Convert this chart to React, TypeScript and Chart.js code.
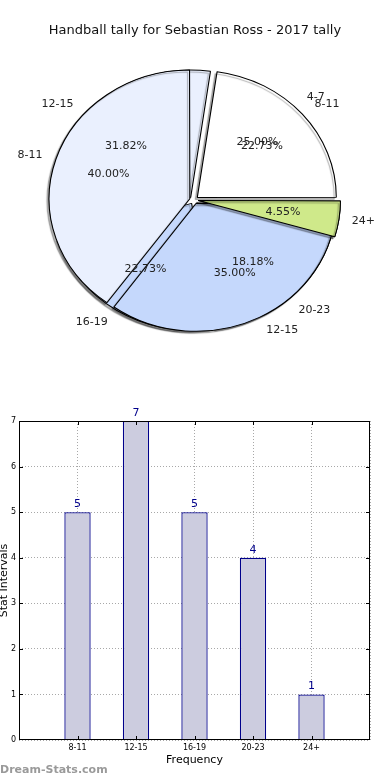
import React, { useEffect, useRef } from 'react';
import { Chart, registerables } from 'chart.js';

Chart.register(...registerables);

// ---------- data ----------
const TITLE = 'Handball tally for Sebastian Ross - 2017 tally';
const WATERMARK = 'Dream-Stats.com';

const pieALabels = ['8-11', '12-15', '16-19', '20-23', '24+'];
const pieAValues = [5, 7, 5, 4, 1];
const pieAColors = ['#ffffff', '#eaf0fe', '#c5d8fc', '#c5d8fc', '#cfe98a'];
const pieABorders = [1, 1, 1, 1, 1];
const pieAOnTop = ['24+'];

const pieBLabels = ['4-7', '8-11', '12-15'];
const pieBValues = [5, 8, 7];
const pieBColors = ['rgba(0,0,0,0)', '#eaf0fe', '#c5d8fc'];
const pieBBorders = [0, 1, 1];

const barCategories = ['8-11', '12-15', '16-19', '20-23', '24+'];
const barValues = [5, 7, 5, 4, 1];

const xAxisTitle = 'Frequency';
const yAxisTitle = 'Stat Intervals';

// ---------- styling ----------
const FONT = '"DejaVu Sans", sans-serif';
const SX = 1.094; // horizontal stretch of the pie (ellipse)
const EXPLODE = 16; // chart.js offset, drawn at 1/4 => ~4px
const PIE_RADIUS = 127;

const rev = <T,>(a: T[]) => [...a].reverse();

function ellipsePlugin(extra?: (ctx: CanvasRenderingContext2D) => void) {
  return {
    id: 'ellipse',
    beforeDatasetsDraw(chart: any) {
      const ctx = chart.ctx as CanvasRenderingContext2D;
      const arc = chart.getDatasetMeta(0).data[0];
      ctx.save();
      ctx.translate(arc.x, arc.y);
      ctx.scale(SX, 1);
      ctx.translate(-arc.x, -arc.y);
      ctx.shadowColor = 'rgba(0,0,0,0.3)';
      ctx.shadowOffsetX = -2;
      ctx.shadowOffsetY = 2;
      ctx.shadowBlur = 1;
    },
    afterDatasetsDraw(chart: any) {
      const ctx = chart.ctx as CanvasRenderingContext2D;
      if (extra) extra(ctx);
      ctx.restore();
    },
  };
}

function drawPieTexts(ctx: CanvasRenderingContext2D, chart: any) {
  const meta = chart.getDatasetMeta(0);
  const values: number[] = chart.data.datasets[0].data;
  const labels: string[] = chart.data.labels;
  const total = values.reduce((a, b) => a + b, 0);
  ctx.save();
  ctx.font = `11px ${FONT}`;
  ctx.fillStyle = '#222';
  ctx.textBaseline = 'middle';
  meta.data.forEach((arc: any, i: number) => {
    const mid = (arc.startAngle + arc.endAngle) / 2;
    const off = 6;
    const pos = (f: number) => {
      const d = off + f * arc.outerRadius;
      return [arc.x + SX * Math.cos(mid) * d, arc.y + Math.sin(mid) * d];
    };
    const [lx, ly] = pos(1.1);
    ctx.textAlign = Math.cos(mid) >= 0 ? 'left' : 'right';
    ctx.fillText(labels[i], lx, ly);
    const [px, py] = pos(0.6);
    ctx.textAlign = 'center';
    ctx.fillText(((values[i] / total) * 100).toFixed(2) + '%', px, py);
  });
  ctx.restore();
}

function pieConfig(labels: string[], values: number[], colors: string[], borders: number[], plugins: any[]): any {
  return {
    type: 'pie',
    data: {
      labels: rev(labels),
      datasets: [
        {
          data: rev(values),
          backgroundColor: rev(colors),
          borderColor: '#000000',
          borderWidth: rev(borders),
          offset: EXPLODE,
        },
      ],
    },
    options: {
      animation: false,
      responsive: true,
      maintainAspectRatio: false,
      events: [],
      radius: PIE_RADIUS,
      rotation: 90,
      layout: { padding: { left: 0, right: 2, top: 0, bottom: 0 } },
      plugins: { legend: { display: false }, tooltip: { enabled: false }, title: { display: false } },
    },
    plugins,
  };
}

const framePlugin = {
  id: 'frame',
  afterDatasetsDraw(chart: any) {
    const { ctx, chartArea: a, scales } = chart;
    ctx.save();
    // value labels
    const meta = chart.getDatasetMeta(0);
    ctx.font = `11px ${FONT}`;
    ctx.fillStyle = '#00008b';
    ctx.textAlign = 'center';
    ctx.textBaseline = 'alphabetic';
    meta.data.forEach((bar: any, i: number) => {
      ctx.fillText(String(barValues[i]), bar.x, bar.y - 5);
    });
    // frame
    ctx.strokeStyle = '#000';
    ctx.lineWidth = 1;
    ctx.strokeRect(Math.round(a.left) + 0.5, Math.round(a.top) + 0.5, Math.round(a.right - a.left) - 1, Math.round(a.bottom - a.top) - 1);
    // inward tick marks
    ctx.beginPath();
    barCategories.forEach((_, i) => {
      const x = Math.round(scales.x.getPixelForValue(i + 1)) + 0.5;
      ctx.moveTo(x, a.bottom);
      ctx.lineTo(x, a.bottom - 4);
      ctx.moveTo(x, a.top);
      ctx.lineTo(x, a.top + 4);
    });
    for (let v = 1; v < 7; v++) {
      const y = Math.round(scales.y.getPixelForValue(v)) + 0.5;
      ctx.moveTo(a.left, y);
      ctx.lineTo(a.left + 4, y);
      ctx.moveTo(a.right, y);
      ctx.lineTo(a.right - 4, y);
    }
    ctx.stroke();
    ctx.restore();
  },
};

const barConfig: any = {
  type: 'bar',
  data: {
    datasets: [
      {
        data: barValues.map((v, i) => ({ x: i + 1, y: v })),
        backgroundColor: '#ccccdf',
        borderColor: '#00008b',
        borderWidth: 1.3,
        barPercentage: 0.45,
        categoryPercentage: 1,
      },
    ],
  },
  options: {
    animation: false,
    responsive: true,
    maintainAspectRatio: false,
    events: [],
    layout: { padding: { top: 21, right: 20, bottom: 13, left: 0 } },
    plugins: { legend: { display: false }, tooltip: { enabled: false } },
    scales: {
      x: {
        type: 'linear',
        min: 0,
        max: 6,
        offset: false,
        ticks: {
          stepSize: 1,
          autoSkip: false,
          maxRotation: 0,
          padding: 3,
          color: '#000',
          font: { size: 8, family: FONT },
          callback: (v: number) => barCategories[v - 1] ?? '',
        },
        grid: { color: '#a8a8a8', drawTicks: false, lineWidth: 1, offset: false },
        border: { display: false, dash: [1, 2] },
        title: { display: true, text: xAxisTitle, color: '#000', font: { size: 11, family: FONT }, padding: 0 },
        afterFit: (s: any) => {
          s.height = 27;
        },
      },
      y: {
        min: 0,
        max: 7,
        ticks: { stepSize: 1, padding: 3, color: '#000', font: { size: 8, family: FONT } },
        grid: { color: '#a8a8a8', drawTicks: false, lineWidth: 1 },
        border: { display: false, dash: [1, 2] },
        title: { display: true, text: yAxisTitle, color: '#000', font: { size: 11, family: FONT, lineHeight: 0.8 }, padding: 0 },
        afterFit: (s: any) => {
          s.width = 19;
        },
      },
    },
  },
  plugins: [framePlugin],
};

export default function App() {
  const pieARef = useRef<HTMLCanvasElement>(null);
  const pieBRef = useRef<HTMLCanvasElement>(null);
  const barRef = useRef<HTMLCanvasElement>(null);

  useEffect(() => {
    const chartA = new Chart(pieARef.current!, pieConfig(pieALabels, pieAValues, pieAColors, pieABorders, [ellipsePlugin()]));
    const topIdx = rev(pieALabels)
      .map((l, i) => (pieAOnTop.includes(l) ? i : -1))
      .filter((i) => i >= 0);
    const textPlugin = {
      id: 'pieTexts',
      afterDraw(chart: any) {
        drawPieTexts(chart.ctx, chartA);
        drawPieTexts(chart.ctx, chart);
      },
    };
    const chartB = new Chart(
      pieBRef.current!,
      pieConfig(pieBLabels, pieBValues, pieBColors, pieBBorders, [
        ellipsePlugin((ctx) => {
          const meta = chartA.getDatasetMeta(0);
          topIdx.forEach((i) => (meta.data[i] as any).draw(ctx));
        }),
        textPlugin,
      ])
    );
    const bar = new Chart(barRef.current!, barConfig);
    return () => {
      chartB.destroy();
      chartA.destroy();
      bar.destroy();
    };
  }, []);

  const layer: React.CSSProperties = { position: 'absolute', left: 0, top: 0, width: 390, height: 400 };

  return (
    <div style={{ position: 'absolute', left: 0, top: 0, width: 390, height: 780, background: '#fff', fontFamily: FONT }}>
      <div style={layer}>
        <canvas ref={pieARef} />
      </div>
      <div style={layer}>
        <canvas ref={pieBRef} />
      </div>
      <div
        style={{
          position: 'absolute',
          left: 0,
          top: 22,
          width: 390,
          textAlign: 'center',
          fontSize: 13,
          lineHeight: '16px',
          color: '#111',
        }}
      >
        {TITLE}
      </div>
      <div style={{ position: 'absolute', left: 0, top: 400, width: 390, height: 380 }}>
        <canvas ref={barRef} />
      </div>
      <div
        style={{
          position: 'absolute',
          left: 0,
          top: 762,
          fontSize: 11,
          fontWeight: 'bold',
          lineHeight: '16px',
          color: '#9a9a9a',
        }}
      >
        {WATERMARK}
      </div>
    </div>
  );
}
